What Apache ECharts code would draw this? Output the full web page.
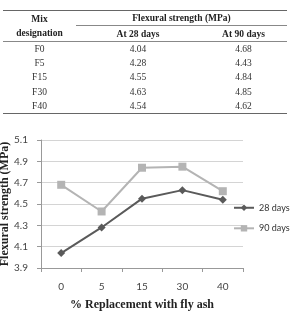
<!DOCTYPE html>
<html lang="en">
<head>
  <script src="https://cdn.jsdelivr.net/npm/echarts@6.0.0/dist/echarts.min.js"></script>
  <style>
    body { margin: 0; background: #fff; }
    #tbl { position: absolute; left: 3px; top: 10px; width: 284px; border-collapse: collapse;
           font-family: "Liberation Serif", "Times New Roman", serif; font-size: 9.5px; color: #333; }
    #tbl td, #tbl th { padding: 0; text-align: center; }
    #tbl th { font-weight: bold; color: #222; }
  </style>
</head>
<body>
  <div id="flexChart" style="position:absolute;left:0;top:0;width:291px;height:311px;"></div>
  <table id="tbl"></table>

  <script type="text/javascript">

    var mixNames = ['F0', 'F5', 'F15', 'F30', 'F40'];
    var replacement = ['0', '5', '15', '30', '40'];
    var days28 = [4.04, 4.28, 4.55, 4.63, 4.54];
    var days90 = [4.68, 4.43, 4.84, 4.85, 4.62];

    function buildTable() {
        var t = document.getElementById('tbl');
        var html = '<tr style="height:15px;border-top:1px solid #666">' +
            '<th rowspan="2" style="width:73px;line-height:14px">Mix<br>designation</th>' +
            '<th colspan="2" style="border-bottom:1px solid #888">Flexural strength (MPa)</th></tr>' +
            '<tr style="height:16px;border-bottom:1px solid #888"><th style="width:124px">At 28 days</th><th>At 90 days</th></tr>';
        for (var i = 0; i < mixNames.length; i++) {
            html += '<tr style="height:14.4px' + (i == mixNames.length - 1 ? ';border-bottom:1px solid #666' : '') + '">' +
                '<td>' + mixNames[i] + '</td><td>' + days28[i].toFixed(2) + '</td><td>' + days90[i].toFixed(2) + '</td></tr>';
        }
        t.innerHTML = html;
    }

    function createFlexChart() {
        const chart = echarts.init(document.getElementById('flexChart'));
        const serif = '"Liberation Serif", "Times New Roman", serif';
        const sans = 'Lato, "Liberation Sans", sans-serif';

        let option = {
            animation: false,
            grid: { left: 41, right: 48, top: 140, bottom: 43, outerBoundsMode: 'none' },
            legend: {
                orient: 'vertical',
                left: 233,
                top: 201,
                padding: 0,
                itemWidth: 20,
                itemHeight: 8,
                itemGap: 7,
                textStyle: { fontFamily: sans, fontSize: 9, color: '#333' },
                data: ['28 days', '90 days']
            },
            xAxis: {
                type: 'category',
                data: replacement,
                name: '% Replacement with fly ash',
                nameLocation: 'middle',
                nameGap: 25,
                nameTextStyle: { fontFamily: serif, fontWeight: 'bold', fontSize: 12, color: '#222' },
                axisLine: { lineStyle: { color: '#999' } },
                axisTick: { show: true, length: 4, lineStyle: { color: '#999' } },
                axisLabel: { fontFamily: sans, fontSize: 10, color: '#444', margin: 11 }
            },
            yAxis: {
                type: 'value',
                min: 3.9,
                max: 5.1,
                interval: 0.2,
                name: 'Flexural strength (MPa)',
                nameLocation: 'middle',
                nameGap: 27,
                nameMoveOverlap: false,
                nameTextStyle: { fontFamily: serif, fontWeight: 'bold', fontSize: 12, color: '#222' },
                axisLine: { show: true, lineStyle: { color: '#999' } },
                axisTick: { show: true, length: 4, lineStyle: { color: '#999' } },
                axisLabel: { fontFamily: sans, fontSize: 10, color: '#444', margin: 13,
                    formatter: function (v) { return v.toFixed(1); } },
                splitLine: { lineStyle: { color: '#d4d4d4' } }
            },
            series: [
                {
                    name: '28 days',
                    type: 'line',
                    data: days28,
                    symbol: 'diamond',
                    symbolSize: 8,
                    lineStyle: { color: '#5a5a5a', width: 2 },
                    itemStyle: { color: '#5a5a5a' }
                },
                {
                    name: '90 days',
                    type: 'line',
                    data: days90,
                    symbol: 'rect',
                    symbolSize: 8,
                    lineStyle: { color: '#b4b4b4', width: 2 },
                    itemStyle: { color: '#b4b4b4' }
                }
            ]
        };

        chart.setOption(option);
    }
    buildTable();
    createFlexChart();
  </script>
</body>
</html>
